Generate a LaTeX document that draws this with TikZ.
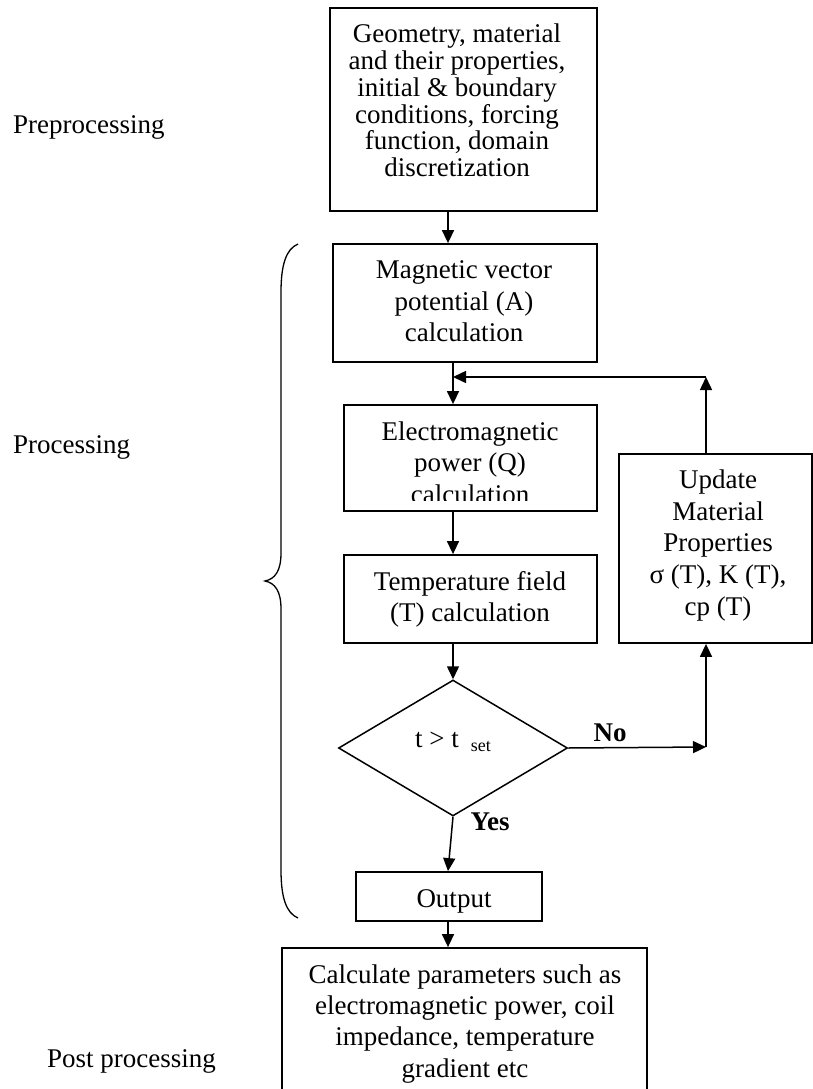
\documentclass[tikz,border=0pt]{standalone}
\usepackage{fontspec}
\setmainfont{Liberation Serif}
\usetikzlibrary{arrows.meta,shapes.geometric}
\begin{document}
\begin{tikzpicture}[x=1pt,y=-1pt,
  box/.style={draw, line width=1.8pt, rectangle, inner sep=0pt},
  txt/.style={align=center, inner sep=0pt, font=\fontsize{27}{31.5}\selectfont},
  tighttxt/.style={align=center, inner sep=0pt, font=\fontsize{27}{26.7}\selectfont},
  side/.style={anchor=base west, inner sep=0pt, font=\fontsize{27}{31.5}\selectfont},
  lbl/.style={inner sep=0pt, font=\fontsize{27}{31.5}\selectfont\bfseries},
  arr/.style={line width=1.5pt, -{Triangle[width=12pt,length=13pt]}},
  brace/.style={line width=1.3pt}]
\useasboundingbox (0,0) rectangle (813,1089);
\clip (0,0) rectangle (813,1089);

% side labels
\node[side] (lpre) at (13,133) {Preprocessing};
\node[side] (lpro) at (13,453) {Processing};
\node[side] (lpost) at (47,1067) {Post processing};

% boxes
\node[box, minimum width=267pt, minimum height=203pt] (pre) at (463.5,109.5) {};
\node[tighttxt] (pretxt) at (457,104) {\strut Geometry, material\\and their properties,\\initial \& boundary\\conditions, forcing\\function, domain\\discretization\strut};

\node[box, minimum width=264pt, minimum height=118pt] (mag) at (465,303) {};
\node[txt] (magtxt) at (464,304) {\strut Magnetic vector\\potential (A)\\calculation\strut};

\node[box, minimum width=253pt, minimum height=106pt] (em) at (470.5,458) {};
\begin{scope}
  \clip (344,405) rectangle (597,500);
  \node[txt] (emtxt) at (470,465.5) {\strut Electromagnetic\\power (Q)\\calculation\strut};
\end{scope}

\node[box, minimum width=253pt, minimum height=88pt] (temp) at (470.5,599) {};
\node[txt] (temptxt) at (470,599.5) {\strut Temperature field\\(T) calculation\strut};

\node[box, minimum width=193pt, minimum height=189pt] (upd) at (715.5,548.5) {};
\node[txt, font=\fontsize{27}{31.75}\selectfont] (updtxt) at (718,545.5) {\strut Update\\Material\\Properties\\σ (T), K (T),\\cp (T)\strut};

\node[draw, diamond, line width=1.5pt, minimum width=229pt, minimum height=136pt, inner sep=0pt] (dec) at (453,748) {};
\node[txt] (dectxt) at (453,742) {t > t\hspace{12pt}\raisebox{-4pt}{\fontsize{18}{18}\selectfont set}};

\node[box, minimum width=186pt, minimum height=49pt] (out) at (449,896.5) {};
\node[txt] (outtxt) at (454,901) {\strut Output\strut};

\node[box, minimum width=365pt, minimum height=170pt] (post) at (464.5,1033) {};
\node[txt, font=\fontsize{27}{31.3}\selectfont] (posttxt) at (465,1024) {\strut Calculate parameters such as\\electromagnetic power, coil\\impedance, temperature\\gradient etc\strut};

% branch labels
\node[lbl] (no) at (610,733) {No};
\node[lbl] (yes) at (490,822) {Yes};

% helper coordinates
\coordinate (xa) at (448,0);
\coordinate (xb) at (453,0);
\coordinate (xc) at (706,0);
\coordinate (junction) at (453,377);
\coordinate (corner) at (706,377);
\coordinate (nocorner) at (706,747);

% connectors
\draw[arr] (pre.south -| xa) -- (mag.north -| xa);
\draw[arr] (mag.south -| xb) -- (em.north -| xb);
\draw[arr] (upd.north -| xc) -- (corner);
\draw[arr] (corner) -- (junction);
\draw[arr] (em.south -| xb) -- (temp.north -| xb);
\draw[arr] (temp.south -| xb) -- (dec.north);
\draw[arr] (dec.east) -- (nocorner);
\draw[arr] (nocorner) -- (upd.south -| xc);
\draw[arr] (dec.south) -- (out.north -| xa);
\draw[arr] (out.south -| xa) -- (post.north -| xa);

% brace
\draw[brace] (298,244) .. controls (286,249) and (281,265) .. (281,292)
  -- (281,553) .. controls (281,571) and (275,579) .. (265,581)
  .. controls (275,583) and (281,591) .. (281,609)
  -- (281,870) .. controls (281,897) and (286,913) .. (298,918);
\end{tikzpicture}
\end{document}
